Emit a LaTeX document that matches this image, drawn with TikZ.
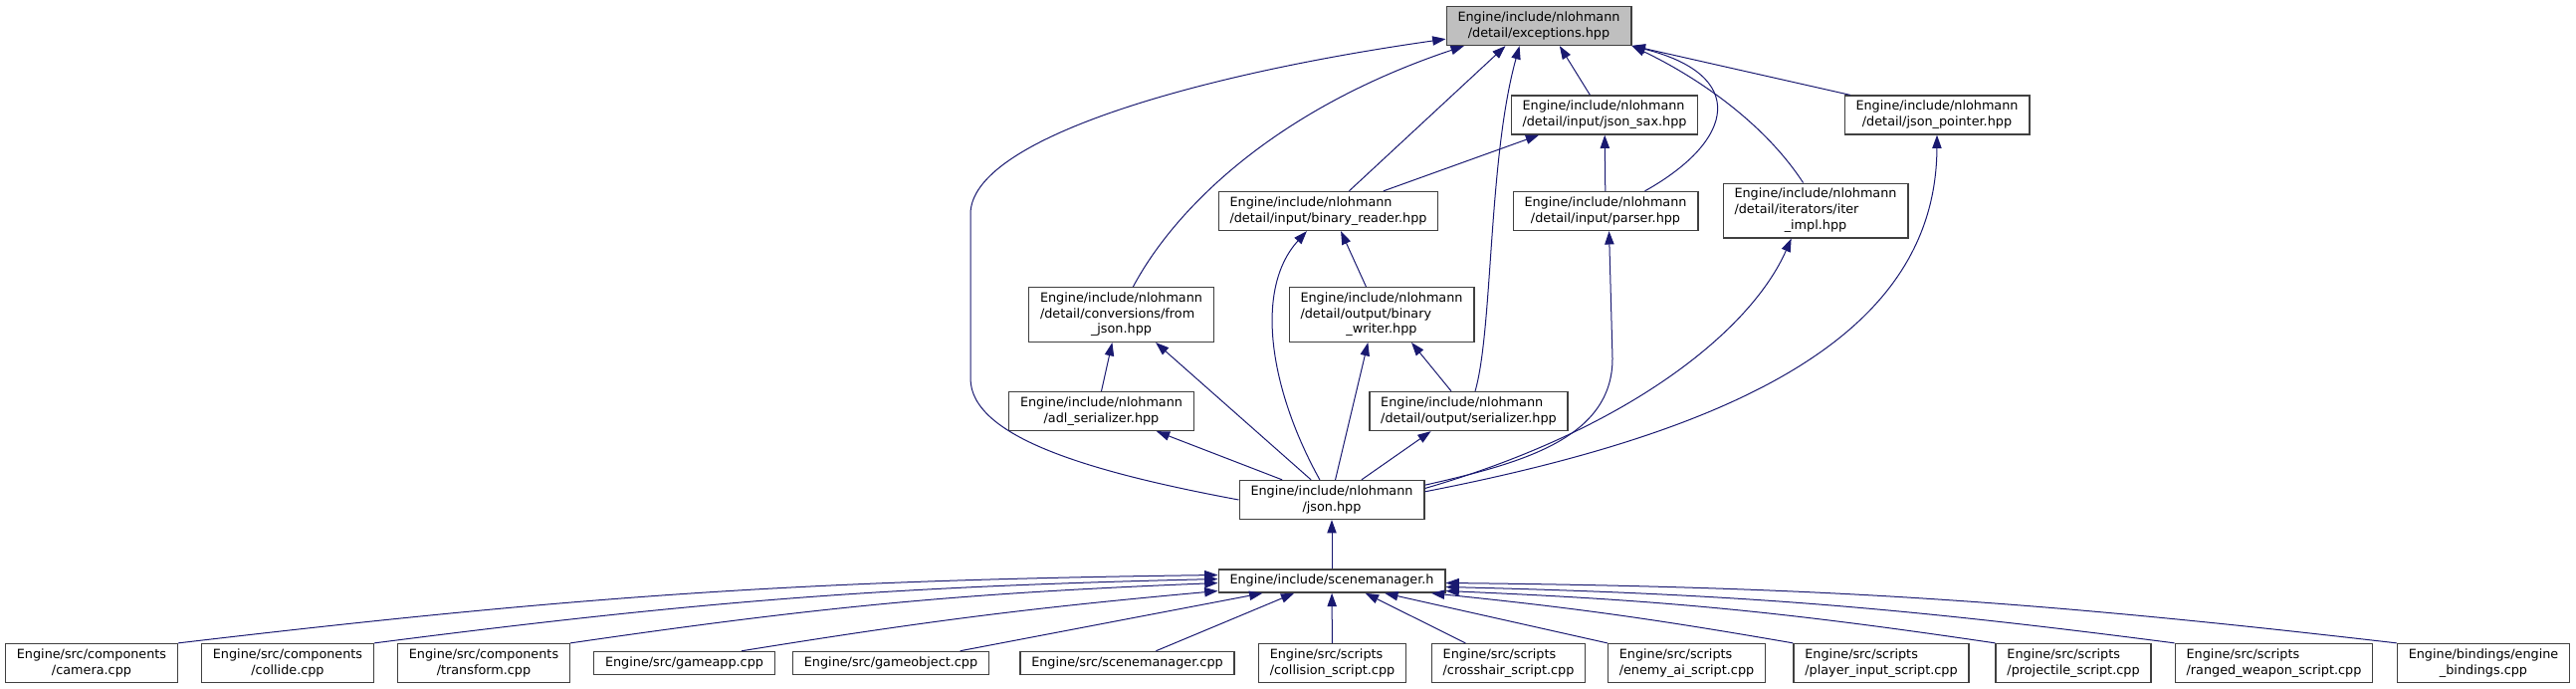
\documentclass[tikz,border=0pt]{standalone}
\usepackage{fontspec}
\setmainfont{DejaVu Sans}
\usepackage{tikz}
\usetikzlibrary{arrows.meta}
\definecolor{edgeblue}{HTML}{191970}
\definecolor{boxline}{HTML}{404040}
\definecolor{rootfill}{HTML}{BFBFBF}
\newcommand{\flab}[2]{\begin{tabular}{@{}l@{}}#1\\\multicolumn{1}{@{}c@{}}{#2}\end{tabular}}
\newcommand{\slab}[1]{\begin{tabular}{@{}c@{}}#1\end{tabular}}
\tikzset{
  file/.style={draw=boxline,line width=1pt,fill=white,inner xsep=8.5pt,inner ysep=2.8pt,font=\fontsize{9.6}{11.8}\selectfont},
  root/.style={file,fill=rootfill},
  dep/.style={-{Triangle[length=10pt,width=7pt]},line width=.75pt,draw=edgeblue}
}

\begin{document}
\begin{tikzpicture}[x=0.75pt,y=-0.75pt]
\useasboundingbox (0,0) rectangle (2588,692);
\node[root] (exc) at (1546,26) {\flab{Engine/include/nlohmann}{/detail/exceptions.hpp}};
\node[file] (sax) at (1612,115.5) {\flab{Engine/include/nlohmann}{/detail/input/json\_sax.hpp}};
\node[file] (ptr) at (1946,115.5) {\flab{Engine/include/nlohmann}{/detail/json\_pointer.hpp}};
\node[file] (reader) at (1334.5,212) {\flab{Engine/include/nlohmann}{/detail/input/binary\_reader.hpp}};
\node[file] (parser) at (1613,212) {\flab{Engine/include/nlohmann}{/detail/input/parser.hpp}};
\node[file] (iter) at (1824,211.5) {\flab{Engine/include/nlohmann\\/detail/iterators/iter}{\_impl.hpp}};
\node[file] (fromjson) at (1126.5,316) {\flab{Engine/include/nlohmann\\/detail/conversions/from}{\_json.hpp}};
\node[file] (writer) at (1388,316) {\flab{Engine/include/nlohmann\\/detail/output/binary}{\_writer.hpp}};
\node[file] (adl) at (1106.5,413) {\flab{Engine/include/nlohmann}{/adl\_serializer.hpp}};
\node[file] (ser) at (1475.5,413) {\flab{Engine/include/nlohmann}{/detail/output/serializer.hpp}};
\node[file] (json) at (1338,502) {\flab{Engine/include/nlohmann}{/json.hpp}};
\node[file] (smh) at (1338,583.5) {\slab{Engine/include/scenemanager.h}};
% files that include scenemanager.h
\node[file] (camera) at (92,666) {\flab{Engine/src/components}{/camera.cpp}};
\node[file] (collide) at (289,666) {\flab{Engine/src/components}{/collide.cpp}};
\node[file] (transform) at (486,666) {\flab{Engine/src/components}{/transform.cpp}};
\node[file] (gameapp) at (687.5,666) {\slab{Engine/src/gameapp.cpp}};
\node[file] (gameobject) at (895,666) {\slab{Engine/src/gameobject.cpp}};
\node[file] (smcpp) at (1132.5,666) {\slab{Engine/src/scenemanager.cpp}};
\node[file] (collision) at (1338.5,666) {\flab{Engine/src/scripts}{/collision\_script.cpp}};
\node[file] (crosshair) at (1515.5,666) {\flab{Engine/src/scripts}{/crosshair\_script.cpp}};
\node[file] (enemy) at (1694.5,666) {\flab{Engine/src/scripts}{/enemy\_ai\_script.cpp}};
\node[file] (player) at (1890,666) {\flab{Engine/src/scripts}{/player\_input\_script.cpp}};
\node[file] (projectile) at (2083,666) {\flab{Engine/src/scripts}{/projectile\_script.cpp}};
\node[file] (ranged) at (2284.5,666) {\flab{Engine/src/scripts}{/ranged\_weapon\_script.cpp}};
\node[file] (bindings) at (2495,666) {\flab{Engine/bindings/engine}{\_bindings.cpp}};
% includes of exceptions.hpp
\draw[dep] (json.west) .. controls (1100,475) and (975,440) .. (975,380) -- (975,215) .. controls (975,140) and (1200,75) .. (exc.188);
\draw[dep] (fromjson.67) .. controls (1180,210) and (1280,110) .. (exc.195);
\draw[dep] (reader.44) -- (exc.211);
\draw[dep] (ser.72) .. controls (1500,330) and (1495,160) .. (exc.226);
\draw[dep] (sax.126) -- (exc.316);
\draw[dep] (parser.27) .. controls (1745,140) and (1755,75) .. (exc.south east);
\draw[dep] (iter.114) .. controls (1770,120) and (1700,75) .. (exc.south east);
\draw[dep] (ptr.167) -- (exc.348);
% detail headers
\draw[dep] (reader.20) -- (sax.197); \draw[dep] (parser) -- (sax);
\draw[dep] (writer.119) -- (reader.302); \draw[dep] (ser.131) -- (writer.317);
\draw[dep] (adl.north) -- (fromjson.252);
% json.hpp
\draw[dep] (json.158) -- (adl.340); \draw[dep] (json.136) -- (fromjson.321);
\draw[dep] (json.121) .. controls (1275,390) and (1260,290) .. (reader.223);
\draw[dep] (json.80) -- (writer.244); \draw[dep] (json.34) -- (ser.208);
\draw[dep] (json.9) .. controls (1530,465) and (1620,440) .. (1620,360) -- (parser.280);
\draw[dep] (json.7) .. controls (1640,430) and (1760,330) .. (iter.229);
\draw[dep] (json.5) .. controls (1760,430) and (1945,330) .. (ptr.south);
\draw[dep] (smh) -- (json);
% scenemanager.h
\draw[dep] (camera.north east) to[bend left=3] (smh.177);
\draw[dep] (collide.north east) to[bend left=3] (smh.179);
\draw[dep] (transform.north east) to[bend left=3] (smh.181);
\draw[dep] (gameapp.12) to[bend left=2] (smh.185);
\draw[dep] (gameobject.10) -- (smh.190); \draw[dep] (smcpp.23) -- (smh.198);
\draw[dep] (collision) -- (smh);
\draw[dep] (crosshair.155) -- (smh.340); \draw[dep] (enemy.north west) -- (smh.347);
\draw[dep] (player.north west) to[bend right=2] (smh.353);
\draw[dep] (projectile.north west) to[bend right=3] (smh.355);
\draw[dep] (ranged.north west) to[bend right=3] (smh.357);
\draw[dep] (bindings.north west) to[bend right=3] (smh.359);
\end{tikzpicture}
\end{document}
